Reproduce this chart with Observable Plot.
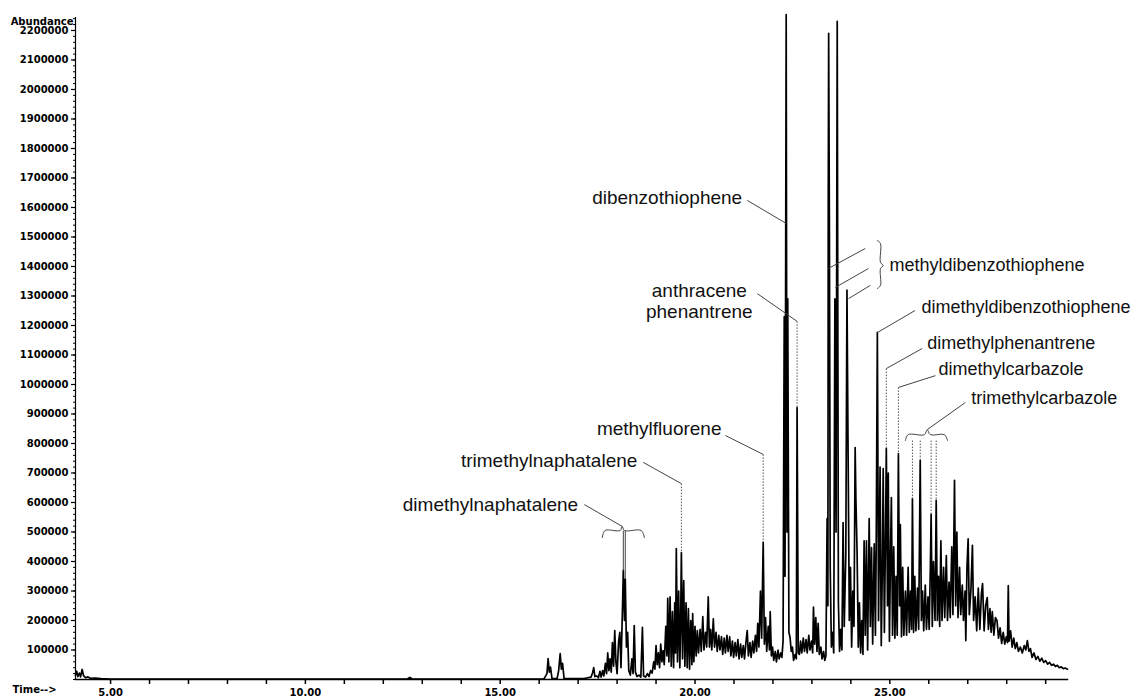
<!DOCTYPE html>
<html>
<head>
<meta charset="utf-8">
<script src="https://cdn.jsdelivr.net/npm/d3@7"></script>
<script src="https://cdn.jsdelivr.net/npm/@observablehq/plot@0.6"></script>
<style>
  html, body { margin: 0; padding: 0; background: #fff; }
  #chart svg { display: block; }
</style>
</head>
<body>
<div id="chart"></div>
<script>
// ---- Data: total ion chromatogram, [time (min), abundance] ----
const traceEarly = [
  [4.10, 14000],[4.13, 28000],[4.16, 10000],[4.20, 22000],[4.23, 9000],[4.27, 34000],[4.31, 12000],
  [4.36, 6000],[4.42, 9000],[4.48, 4000],[4.60, 5000],[4.75, 3000],[5.00, 1500],[8.00, 1500],
  [12.62, 1500],[12.68, 7000],[12.74, 1500],[16.12, 1500],[16.20, 20000],[16.23, 71000],[16.26, 25000],
  [16.29, 42000],[16.33, 3000],[16.46, 3000],[16.50, 30000],[16.54, 88000],[16.57, 35000],[16.60, 55000],
  [16.64, 3000],[17.15, 3000],[17.25, 6000]
];
const traceNaph = [
  [17.33, 8000],[17.37, 22000],[17.40, 40000],[17.43, 10000],[17.48, 12000],[17.52, 6000],[17.56, 28000],
  [17.59, 8000],[17.63, 30000],[17.66, 12000],[17.70, 55000],[17.73, 20000],[17.76, 90000],[17.79, 30000],
  [17.82, 70000],[17.85, 25000],[17.88, 125000],[17.91, 45000],[17.94, 166000],[17.97, 60000],[18.00, 20000],
  [18.04, 130000],[18.07, 160000],[18.10, 40000],[18.14, 250000],[18.16, 370000],[18.19, 200000],[18.21, 340000],
  [18.24, 110000],[18.27, 160000],[18.30, 30000],[18.34, 15000],[18.38, 70000],[18.41, 20000],[18.44, 183000],
  [18.47, 25000],[18.51, 10000],[18.56, 15000],[18.61, 8000],[18.65, 177000],[18.68, 12000],[18.73, 8000],
  [18.78, 20000],[18.82, 10000],[18.86, 30000],[18.90, 22000],[18.94, 60000],[18.97, 35000],[19.00, 115000],
  [19.03, 50000],[19.06, 90000],[19.09, 40000],[19.12, 120000],[19.15, 60000]
];
const traceFluor = [
  [19.18, 98000],[19.21, 50000],[19.25, 180000],[19.28, 80000],[19.30, 275000],[19.33, 60000],[19.36, 280000],
  [19.39, 45000],[19.42, 230000],[19.45, 40000],[19.48, 260000],[19.50, 90000],[19.52, 444000],[19.55, 60000],
  [19.58, 300000],[19.61, 40000],[19.63, 180000],[19.65, 430000],[19.68, 70000],[19.71, 335000],[19.74, 45000],
  [19.77, 260000],[19.80, 40000],[19.83, 240000],[19.86, 35000],[19.89, 200000],[19.92, 50000],[19.94, 223000],
  [19.97, 60000],[20.00, 180000],[20.03, 80000],[20.06, 166000],[20.09, 90000],[20.13, 170000],[20.16, 95000],
  [20.20, 213000],[20.23, 100000],[20.27, 160000],[20.30, 110000],[20.34, 280000],[20.37, 110000],[20.40, 170000],
  [20.43, 100000],[20.47, 206000],[20.50, 110000],[20.54, 160000],[20.57, 95000],[20.61, 150000],[20.64, 100000],
  [20.68, 145000],[20.71, 85000],[20.75, 140000],[20.78, 90000],[20.82, 150000],[20.85, 95000],[20.89, 145000],
  [20.92, 80000],[20.96, 130000],[20.99, 75000],[21.03, 125000],[21.06, 80000],[21.10, 135000],[21.13, 70000],
  [21.17, 120000],[21.20, 75000],[21.24, 115000],[21.27, 70000],[21.31, 130000],[21.34, 166000],[21.37, 80000],
  [21.41, 125000],[21.44, 75000],[21.48, 130000],[21.51, 90000],[21.55, 150000],[21.58, 95000],[21.61, 190000],
  [21.64, 110000],[21.68, 300000],[21.71, 140000],[21.75, 465000],[21.78, 120000],[21.81, 210000],[21.84, 95000],
  [21.88, 180000],[21.91, 100000],[21.93, 230000],[21.96, 80000],[21.99, 110000],[22.02, 65000],[22.06, 95000],
  [22.09, 60000],[22.13, 100000],[22.16, 70000],[22.20, 90000],[22.23, 75000],[22.26, 130000]
];
const traceThio = [
  [22.29, 1230000],[22.31, 350000],[22.34, 2254000],[22.36, 500000],[22.38, 1290000],[22.41, 160000],[22.44, 142000],
  [22.47, 95000],[22.50, 110000],[22.53, 65000],[22.57, 85000],[22.60, 70000],[22.62, 922000],[22.65, 90000],
  [22.68, 85000],[22.71, 130000],[22.74, 90000],[22.78, 140000],[22.81, 95000],[22.85, 135000],[22.88, 90000],
  [22.92, 150000],[22.95, 100000],[22.99, 130000],[23.02, 90000],[23.04, 245000],[23.07, 120000],[23.10, 210000],
  [23.13, 95000],[23.16, 190000],[23.19, 85000],[23.23, 110000],[23.26, 70000],[23.30, 95000],[23.33, 65000],
  [23.36, 80000],[23.39, 545000],[23.41, 250000],[23.42, 1645000],[23.43, 2190000],[23.45, 1500000],[23.47, 380000],
  [23.50, 110000],[23.53, 160000],[23.56, 90000],[23.59, 1290000],[23.62, 500000],[23.65, 2231000],[23.68, 260000],
  [23.71, 95000],[23.74, 170000],[23.77, 100000],[23.80, 532000],[23.83, 180000],[23.87, 420000],[23.90, 1320000],
  [23.93, 750000],[23.96, 200000],[23.99, 380000],[24.02, 110000],[24.05, 300000],[24.08, 180000],[24.11, 786000],
  [24.13, 607000],[24.16, 430000],[24.19, 110000],[24.22, 260000],[24.25, 90000],[24.28, 200000],[24.31, 85000],
  [24.34, 470000],[24.37, 150000],[24.40, 470000],[24.43, 100000],[24.47, 545000],[24.50, 180000],[24.53, 447000],
  [24.56, 120000],[24.60, 460000],[24.63, 150000],[24.65, 440000],[24.68, 1177000],[24.71, 200000],[24.75, 720000],
  [24.78, 115000],[24.81, 400000],[24.83, 715000],[24.86, 160000],[24.89, 500000],[24.91, 783000],[24.94, 250000],
  [24.96, 700000],[24.99, 130000],[25.02, 450000],[25.04, 617000],[25.07, 150000]
];
const traceCarb = [
  [25.10, 450000],[25.13, 140000],[25.16, 350000],[25.19, 150000],[25.22, 766000],[25.25, 250000],[25.27, 525000],
  [25.30, 145000],[25.33, 380000],[25.36, 150000],[25.40, 300000],[25.43, 150000],[25.47, 380000],[25.50, 160000],
  [25.53, 300000],[25.56, 170000],[25.58, 613000],[25.61, 160000],[25.64, 350000],[25.67, 165000],[25.71, 310000],
  [25.74, 170000],[25.78, 742000],[25.81, 200000],[25.84, 300000],[25.87, 165000],[25.91, 320000],[25.94, 170000],
  [25.98, 280000],[26.01, 170000],[26.04, 380000],[26.06, 560000],[26.09, 180000],[26.12, 400000],[26.16, 200000],
  [26.19, 607000],[26.22, 200000],[26.25, 350000],[26.28, 180000],[26.31, 470000],[26.34, 200000],[26.38, 380000],
  [26.41, 210000],[26.45, 420000],[26.48, 200000],[26.52, 330000],[26.55, 210000],[26.59, 450000],[26.62, 220000],
  [26.66, 675000],[26.69, 250000],[26.72, 500000],[26.75, 210000],[26.79, 380000],[26.82, 220000],[26.86, 320000],
  [26.89, 200000],[26.93, 300000],[26.95, 132000],[26.98, 380000],[27.01, 477000],[27.04, 220000],[27.08, 300000],
  [27.12, 455000],[27.15, 200000]
];
const traceTail = [
  [27.19, 280000],[27.23, 165000],[27.27, 310000],[27.31, 170000],[27.35, 290000],[27.38, 325000],[27.42, 165000],
  [27.46, 250000],[27.50, 278000],[27.53, 170000],[27.57, 240000],[27.60, 160000],[27.63, 230000],[27.67, 150000],
  [27.71, 210000],[27.75, 200000],[27.79, 140000],[27.83, 175000],[27.87, 122000],[27.91, 160000],[27.95, 120000],
  [27.99, 145000],[28.02, 125000],[28.04, 318000],[28.06, 130000],[28.10, 165000],[28.14, 110000],[28.18, 140000],
  [28.22, 105000],[28.26, 125000],[28.30, 95000],[28.35, 110000],[28.40, 90000],[28.45, 115000],[28.49, 100000],
  [28.53, 132000],[28.57, 95000],[28.61, 105000],[28.65, 75000],[28.70, 90000],[28.75, 68000],[28.80, 78000],
  [28.85, 62000],[28.90, 72000],[28.95, 58000],[29.00, 64000],[29.05, 52000],[29.10, 58000],[29.15, 48000],
  [29.20, 52000],[29.25, 44000],[29.30, 48000],[29.35, 40000],[29.40, 43000],[29.45, 37000],[29.50, 39000],
  [29.56, 35000]
];

// ---- Axis ticks ----
const yTicks = [100000, 200000, 300000, 400000, 500000, 600000, 700000, 800000, 900000, 1000000, 1100000,
  1200000, 1300000, 1400000, 1500000, 1600000, 1700000, 1800000, 1900000, 2000000, 2100000, 2200000];
const xLabelTicks = [5, 10, 15, 20, 25];
const xMinorTicks = [5, 6, 7, 8, 9, 10, 11, 12, 13, 14, 15, 16, 17, 18, 19, 20, 21, 22, 23, 24, 25, 26, 27, 28, 29];

// ---- Annotations (compound names) ----
const labelsEnd = [
  {text: "dibenzothiophene", t: 21.21, v: 1634000},
  {text: "methylfluorene", t: 20.68, v: 851000},
  {text: "trimethylnaphatalene", t: 18.52, v: 742000},
  {text: "dimethylnaphatalene", t: 17.00, v: 593000}
];
const labelsMiddle = [
  {text: "anthracene", t: 20.11, v: 1318000},
  {text: "phenantrene", t: 20.11, v: 1247000}
];
const labelsStart = [
  {text: "methyldibenzothiophene", t: 24.99, v: 1403000},
  {text: "dimethyldibenzothiophene", t: 25.81, v: 1261000},
  {text: "dimethylphenantrene", t: 25.96, v: 1139000},
  {text: "dimethylcarbazole", t: 26.25, v: 1051000},
  {text: "trimethylcarbazole", t: 27.09, v: 952000}
];
// solid leader segments [t1, v1, t2, v2]
const leaders = [
  [21.34, 1624000, 22.34, 1546000],
  [21.60, 1308000, 22.62, 1214000],
  [20.78, 827000, 21.75, 763000],
  [18.67, 736000, 19.65, 664000],
  [17.16, 593000, 18.13, 519000],
  [24.37, 1461000, 23.42, 1393000],
  [24.45, 1393000, 23.60, 1329000],
  [24.50, 1336000, 23.94, 1291000],
  [25.65, 1251000, 24.68, 1176000],
  [25.83, 1122000, 24.91, 1054000],
  [26.17, 1030000, 25.22, 990000],
  [26.94, 939000, 25.96, 847000],
  [18.16, 505000, 18.16, 370000],
  [18.21, 505000, 18.21, 340000]
];
// dotted drop lines to peak tops [t, vTop, vPeak]
const drops = [
  [22.62, 1214000, 922000],
  [21.75, 763000, 465000],
  [19.65, 664000, 430000],
  [24.91, 1054000, 783000],
  [25.22, 990000, 766000],
  [25.58, 810000, 613000],
  [25.78, 810000, 742000],
  [26.06, 810000, 560000],
  [26.19, 810000, 607000]
];
// curly brackets
const braceNaph = [[17.62, 481000],[17.69, 505000],[18.08, 505000],[18.13, 519000],[18.19, 505000],[18.62, 505000],[18.70, 481000]];
const braceMethyl = [[24.68, 1488000],[24.76, 1478000],[24.76, 1414000],[24.83, 1403000],[24.76, 1393000],[24.76, 1336000],[24.68, 1325000]];
const braceCarb = [[25.40, 810000],[25.47, 830000],[25.89, 830000],[25.96, 847000],[26.04, 830000],[26.40, 830000],[26.48, 810000]];

// ---- Build ----
const trace = [].concat(traceEarly, traceNaph, traceFluor, traceThio, traceCarb, traceTail);
const braces = [
  ...braceNaph.map(d => ({id: "a", t: d[0], v: d[1]})),
  ...braceMethyl.map(d => ({id: "b", t: d[0], v: d[1]})),
  ...braceCarb.map(d => ({id: "c", t: d[0], v: d[1]}))
];
const labelFont = {fontFamily: "Liberation Sans, Arial, sans-serif", fontSize: 19, fill: "#111"};
const labelFontRight = {fontFamily: "Liberation Sans, Arial, sans-serif", fontSize: 18, fill: "#111"};

const chart = Plot.plot({
  width: 1138,
  height: 697,
  marginLeft: 75,
  marginRight: 71,
  marginTop: 17,
  marginBottom: 18,
  x: {domain: [4.1, 29.56], label: null},
  y: {domain: [0, 2244000], label: null},
  style: {background: "#fff", color: "#000", fontFamily: "DejaVu Sans, sans-serif", overflow: "visible"},
  marks: [
    Plot.axisY({ticks: d3.range(0, 2244000, 20000), tickSize: 2, tickFormat: () => "", label: null, strokeWidth: 1}),
    Plot.axisY({ticks: yTicks, tickSize: 4, tickPadding: 3, tickFormat: d => String(d), label: null,
      fontSize: 10, fontWeight: "bold", strokeWidth: 1.2}),
    Plot.axisX({ticks: xMinorTicks, tickSize: 5, tickFormat: () => "", label: null, strokeWidth: 1.5}),
    Plot.axisX({ticks: xLabelTicks, tickSize: 0, tickPadding: 9, tickFormat: d => d.toFixed(2), label: null,
      fontSize: 10, fontWeight: "bold"}),
    Plot.frame({anchor: "left", stroke: "#000", strokeWidth: 1.2}),
    Plot.frame({anchor: "bottom", stroke: "#000", strokeWidth: 1.5}),
    Plot.text(["Abundance"], {frameAnchor: "top-left", dx: -2, dy: 0, textAnchor: "end", fontSize: 10, fontWeight: "bold"}),
    Plot.text(["Time-->"], {frameAnchor: "bottom-left", dx: -63, dy: 13, textAnchor: "start", fontSize: 10, fontWeight: "bold"}),
    Plot.line(trace, {x: d => d[0], y: d => d[1], stroke: "#000", strokeWidth: 1.7}),
    Plot.link(leaders, {x1: d => d[0], y1: d => d[1], x2: d => d[2], y2: d => d[3], stroke: "#444", strokeWidth: 1}),
    Plot.link(drops, {x1: d => d[0], y1: d => d[1], x2: d => d[0], y2: d => d[2], stroke: "#555", strokeWidth: 1, strokeDasharray: "1.5,1.5"}),
    Plot.line(braces, {x: "t", y: "v", z: "id", stroke: "#444", strokeWidth: 1, curve: "catmull-rom"}),
    Plot.text(labelsEnd, {x: "t", y: "v", text: "text", textAnchor: "end", ...labelFont}),
    Plot.text(labelsMiddle, {x: "t", y: "v", text: "text", textAnchor: "middle", ...labelFont}),
    Plot.text(labelsStart, {x: "t", y: "v", text: "text", textAnchor: "start", ...labelFontRight})
  ]
});
document.getElementById("chart").appendChild(chart);
</script>
</body>
</html>
